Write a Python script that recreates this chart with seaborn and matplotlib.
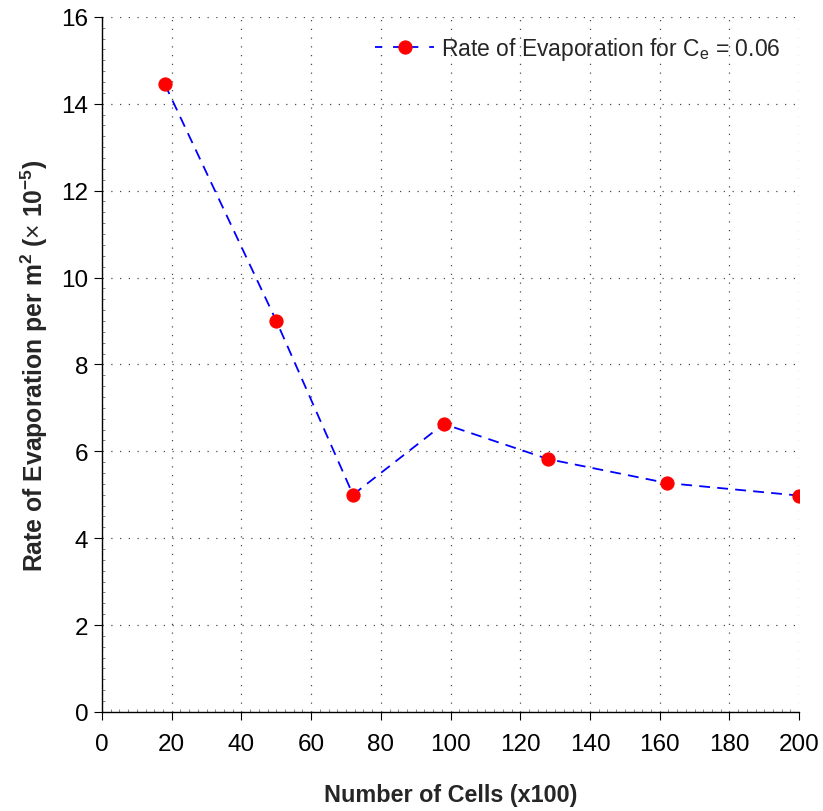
import matplotlib
matplotlib.use("Agg")
import matplotlib.pyplot as plt
from matplotlib.ticker import MultipleLocator
import pandas as pd
import seaborn as sns

# values
cells = [18, 50, 72, 98, 128, 162, 200]
evap_rate = [14.45, 9.0, 5.0, 6.63, 5.82, 5.27, 4.98]
x_ticks = list(range(0, 201, 20))
y_ticks = list(range(0, 17, 2))

df = pd.DataFrame({"cells": cells, "rate": evap_rate})

sns.set_theme(style="white")
plt.rcParams['font.family'] = ['Liberation Sans', 'DejaVu Sans']
plt.rcParams['mathtext.fontset'] = 'custom'
plt.rcParams['mathtext.rm'] = 'Liberation Sans'
plt.rcParams['mathtext.it'] = 'Liberation Sans'
plt.rcParams['mathtext.bf'] = 'Liberation Sans:bold'

fig = plt.figure(figsize=(8.23, 8.12), dpi=100)
ax = fig.add_axes([0.124, 0.122, 0.847, 0.856])

sns.lineplot(data=df, x="cells", y="rate", ax=ax, color="blue", linestyle="--",
             dashes=False, linewidth=1.3, marker="o", markersize=9.5,
             markerfacecolor="red", markeredgecolor="red",
             label=r"Rate of Evaporation for C$_\mathregular{e}$ = 0.06")
ax.lines[0].set_dashes([6, 4])

ax.set_xlim(0, 200)
ax.set_ylim(0, 16)
ax.set_xticks(x_ticks)
ax.set_yticks(y_ticks)
ax.xaxis.set_minor_locator(MultipleLocator(2.5))
ax.yaxis.set_minor_locator(MultipleLocator(0.25))
ax.tick_params(axis="both", which="major", direction="out", length=6,
               width=0.8, labelsize=17.5, color="black", labelcolor="black",
               bottom=True, left=True)
ax.tick_params(axis="x", which="major", pad=9)
ax.tick_params(axis="y", which="major", pad=4)
ax.tick_params(axis="both", which="minor", direction="in", length=2.5,
               width=0.5, bottom=True, left=True, color="#555555")

ax.grid(True, which="major", linestyle=(0, (1, 6)), color="black",
        linewidth=0.9, alpha=0.7)

for side in ["top", "right"]:
    ax.spines[side].set_visible(False)
for side in ["left", "bottom"]:
    ax.spines[side].set_color("black")
    ax.spines[side].set_linewidth(1.0)

ax.set_xlabel("Number of Cells (x100)", fontsize=16.8, fontweight="bold",
              labelpad=20)
ax.set_ylabel(r"Rate of Evaporation per m$^\mathbf{2}$ ($\times$ $\mathbf{10^{-5}}$)",
              fontsize=17.8, fontweight="bold", labelpad=8)

leg = ax.legend(loc="upper right", frameon=False, fontsize=16.5,
                handlelength=2.6, handletextpad=0.3, borderaxespad=0.4)
leg.get_lines()[0].set_dashes([4, 6])

fig.savefig("out.png", dpi=100)
